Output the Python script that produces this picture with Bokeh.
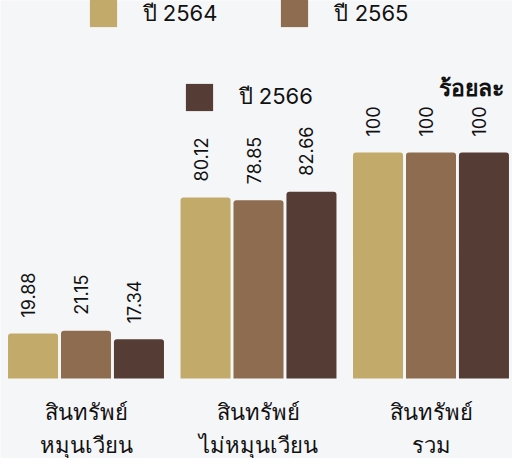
import math
from bokeh.plotting import figure
from bokeh.models import ColumnDataSource, Legend, LegendItem, Label, Range1d
from bokeh.core.properties import value
from bokeh.embed import file_html
from bokeh.resources import INLINE

categories = ["สินทรัพย์\nหมุนเวียน", "สินทรัพย์\nไม่หมุนเวียน", "สินทรัพย์\nรวม"]
series_names = ["ปี 2564", "ปี 2565", "ปี 2566"]
values_2564 = [19.88, 80.12, 100]
values_2565 = [21.15, 78.85, 100]
values_2566 = [17.34, 82.66, 100]
unit_label = "ร้อยละ"

colors = ["#c2ab6a", "#8e6c4f", "#553d35"]
bg = "#f5f6f8"

W, H = 512, 458
px_per_group = 172.5
x0 = -85.5 / px_per_group
x_end = x0 + W / px_per_group
px_per_unit = 2.26
baseline = 378
y_top = baseline / px_per_unit
y_bot = -(H - baseline) / px_per_unit

p = figure(width=W, height=H, output_backend="svg", toolbar_location=None,
           x_range=Range1d(x0, x_end), y_range=Range1d(y_bot, y_top),
           min_border=0, background_fill_color=bg, border_fill_color=bg,
           outline_line_color=None)
p.xaxis.visible = False
p.yaxis.visible = False
p.grid.visible = False

offsets = [-0.307, 0.0, 0.307]
bar_w = 0.29
all_vals = [values_2564, values_2565, values_2566]
renderers = []
for i, (vals, col) in enumerate(zip(all_vals, colors)):
    xs = [k + offsets[i] for k in range(len(categories))]
    src = ColumnDataSource(dict(x=xs, top=vals,
                                lbl=[("%g" % v) for v in vals]))
    r = p.vbar(x="x", top="top", bottom=0, width=bar_w, source=src,
               fill_color=col, line_color=None, border_radius=(3, 3, 0, 0))
    renderers.append(r)
    p.text(x="x", y="top", text="lbl", source=src, angle=math.pi / 2,
           text_align="left", text_baseline="middle", y_offset=-16, x_offset=-5,
           text_font=value("Inter"), text_font_size="18px", text_color="#111111")

# category labels
csrc = ColumnDataSource(dict(x=list(range(len(categories))), y=[0] * len(categories),
                             t=categories))
p.text(x="x", y="y", text="t", source=csrc, text_align="center",
       text_baseline="middle", y_offset=49, text_font=value("Noto Sans"),
       text_font_size="22px", text_line_height=1.12, text_color="#111111")

def make_legend(items, loc):
    lg = Legend(items=items, location=loc, orientation="horizontal",
                glyph_width=34, glyph_height=34, label_standoff=23, spacing=60,
                label_text_font="Inter", label_text_font_size="22px",
                label_text_color="#111111", label_text_baseline="middle",
                padding=0, margin=0, border_line_color=None,
                background_fill_alpha=0, label_height=34)
    return lg

lg1 = make_legend([LegendItem(label=series_names[0], renderers=[renderers[0]]),
                   LegendItem(label=series_names[1], renderers=[renderers[1]])],
                  (85.6, 427.4))
lg2 = make_legend([LegendItem(label=series_names[2], renderers=[renderers[2]])],
                  (181.6, 343.6))
p.add_layout(lg1, "center")
p.add_layout(lg2, "center")

p.add_layout(Label(x=503, y=372, x_units="screen", y_units="screen", text=unit_label,
                   text_align="right", text_baseline="middle",
                   text_font="Noto Sans", text_font_size="23px",
                   text_font_style="bold", text_color="#111111"))

open("out.html", "w").write(file_html(p, INLINE))
